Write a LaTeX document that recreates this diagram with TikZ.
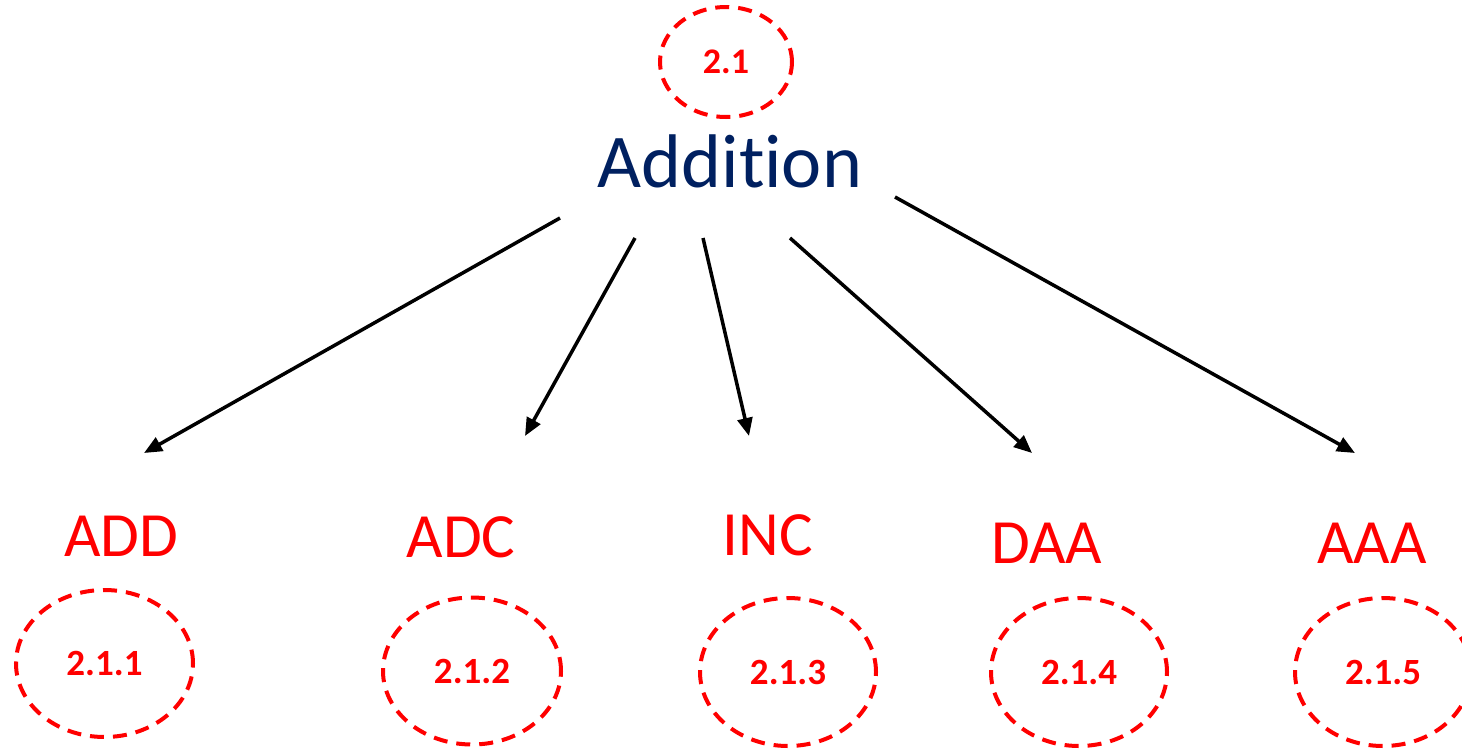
\documentclass[tikz,border=0pt]{standalone}
\usepackage{fontspec}
\setmainfont{Carlito}[Ligatures=NoCommon]
\usetikzlibrary{shapes.geometric,arrows.meta}
\definecolor{navy}{RGB}{0,32,96}
\definecolor{lblred}{RGB}{255,0,0}
\tikzset{
  numell/.style={ellipse,draw=lblred,line width=4pt,dash pattern=on 14pt off 9pt,
    inner sep=0pt,text=lblred,font=\fontsize{37}{37}\selectfont\bfseries},
  instr/.style={anchor=base,inner sep=0pt,text=lblred,font=\fontsize{63}{63}\selectfont},
  title/.style={anchor=base,inner sep=0pt,text=navy,font=\fontsize{76}{76}\selectfont},
  arr/.style={line width=3.5pt,-{Triangle[length=18pt,width=15pt]}}
}
\begin{document}
\begin{tikzpicture}[x=1pt,y=-1pt]
\useasboundingbox (0,0) rectangle (1462,750);
\clip (0,0) rectangle (1462,750);
% top
\node[numell,minimum width=132pt,minimum height=110pt,font=\fontsize{36}{36}\selectfont\bfseries] (n21) at (726,62) {2.1};
\node[title] (addition) at (730,187) {Addi\hbox{t}ion};
% instructions
\node[instr] (add) at (121,556) {ADD};
\node[instr] (adc) at (461,557) {ADC};
\node[instr] (inc) at (768,555) {INC};
\node[instr] (daa) at (1047,563) {DAA};
\node[instr] (aaa) at (1372,563) {AAA};
% numbers
\node[numell,minimum width=177pt,minimum height=147pt] (n211) at (104.5,663.5) {2.1.1};
\node[numell,minimum width=178pt,minimum height=147pt] (n212) at (472,671) {2.1.2};
\node[numell,minimum width=176pt,minimum height=148pt] (n213) at (788,672) {2.1.3};
\node[numell,minimum width=176pt,minimum height=148pt] (n214) at (1079,672) {2.1.4};
\node[numell,minimum width=176pt,minimum height=148pt] (n215) at (1383,672) {2.1.5};
% arrow ends
\coordinate (s1) at (560,218);
\coordinate (s2) at (635,238);
\coordinate (s3) at (703,238);
\coordinate (s4) at (790,238);
\coordinate (s5) at (895,197);
\coordinate (t1) at (144,453);
\coordinate (t2) at (525,436);
\coordinate (t3) at (749,436);
\coordinate (t4) at (1032,453);
\coordinate (t5) at (1355,453);
\draw[arr] (s1) -- (t1);
\draw[arr] (s2) -- (t2);
\draw[arr] (s3) -- (t3);
\draw[arr] (s4) -- (t4);
\draw[arr] (s5) -- (t5);
\end{tikzpicture}
\end{document}
